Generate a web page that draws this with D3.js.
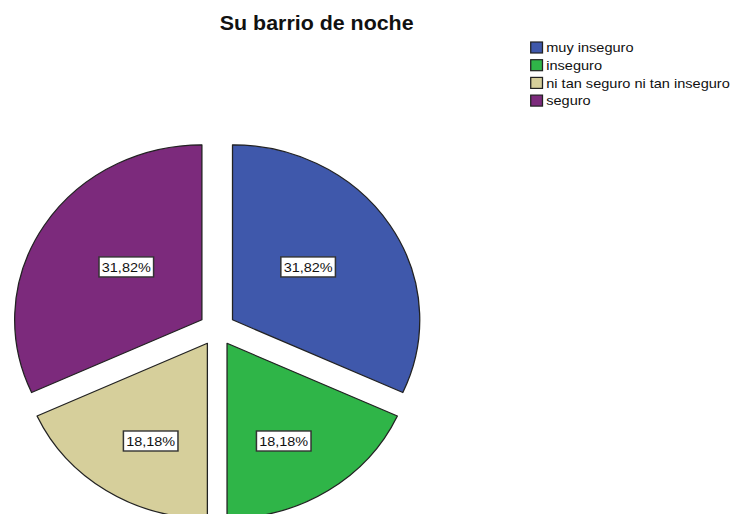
<!DOCTYPE html>
<html>
<head>
<meta charset="utf-8">
<script src="https://cdn.jsdelivr.net/npm/d3@7"></script>
<style>
  body { margin: 0; background: #fff; }
  svg { display: block; font-family: Arial, "Liberation Sans", sans-serif; }
</style>
</head>
<body>
<script>
// data
const categories = ["muy inseguro", "inseguro", "ni tan seguro ni tan inseguro", "seguro"];
const percents = [31.82, 18.18, 18.18, 31.82];
const colors = ["#3f58ab", "#2fb548", "#d6cf9b", "#7c2a7c"];
const title = "Su barrio de noche";

const width = 736, height = 514;
// the source picture is stretched a bit horizontally
const stretch = 1.07;

const svg = d3.select("body").append("svg")
    .attr("width", width)
    .attr("height", height);

const root = svg.append("g")
    .attr("transform", `scale(${stretch},1)`);

// title
root.append("text")
    .attr("x", 296)
    .attr("y", 30)
    .attr("text-anchor", "middle")
    .style("font-size", "20px")
    .style("font-weight", "bold")
    .attr("fill", "#111")
    .text(title);

// pie
const cx = 203, cy = 329, r = 175, explode = 17;

const pie = d3.pie().sort(null).value(d => d)(percents);
const arc = d3.arc().innerRadius(0).outerRadius(r);

const slices = root.append("g")
    .attr("transform", `translate(${cx},${cy})`)
    .selectAll("g")
    .data(pie)
    .enter()
    .append("g")
    .attr("transform", d => {
        const a = (d.startAngle + d.endAngle) / 2;
        return `translate(${explode * Math.sin(a)},${-explode * Math.cos(a)})`;
    });

slices.append("path")
    .attr("d", arc)
    .attr("fill", (d, i) => colors[i])
    .attr("stroke", "#222")
    .attr("stroke-width", 1.2)
    .attr("stroke-linejoin", "round");

// value labels in white boxes
const boxW = 51, boxH = 20;
const lab = slices.append("g")
    .attr("transform", d => {
        const a = (d.startAngle + d.endAngle) / 2;
        const upper = Math.cos(a) > 0;
        const kx = upper ? 0.48 : 0.56;
        const ky = upper ? 0.58 : 0.65;
        return `translate(${kx * r * Math.sin(a)},${-ky * r * Math.cos(a) + 2})`;
    });

lab.append("rect")
    .attr("x", -boxW / 2)
    .attr("y", -boxH / 2)
    .attr("width", boxW)
    .attr("height", boxH)
    .attr("fill", "#fff")
    .attr("stroke", "#333")
    .attr("stroke-width", 1.4);

lab.append("text")
    .attr("text-anchor", "middle")
    .attr("dy", "0.36em")
    .style("font-size", "13.5px")
    .attr("fill", "#111")
    .text(d => d3.format(".2f")(d.data).replace(".", ",") + "%");

// legend
const legend = root.append("g")
    .attr("transform", "translate(496,42)")
    .selectAll("g")
    .data(categories)
    .enter()
    .append("g")
    .attr("transform", (d, i) => `translate(0,${i * 17.7})`);

legend.append("rect")
    .attr("width", 11)
    .attr("height", 11)
    .attr("fill", (d, i) => colors[i])
    .attr("stroke", "#222")
    .attr("stroke-width", 1.2);

legend.append("text")
    .attr("x", 14.5)
    .attr("y", 5.5)
    .attr("dy", "0.35em")
    .style("font-size", "13.6px")
    .attr("fill", "#111")
    .text(d => d);
</script>
</body>
</html>
